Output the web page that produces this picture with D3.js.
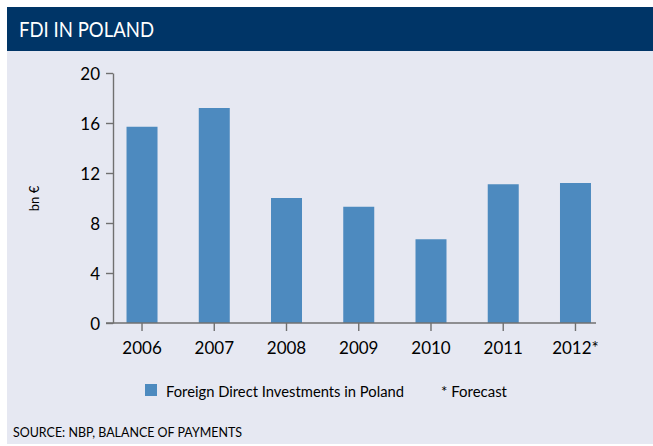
<!DOCTYPE html>
<html>
<head>
<meta charset="utf-8">
<script src="https://cdn.jsdelivr.net/npm/d3@7"></script>
<style>
  html, body { margin: 0; padding: 0; background: #ffffff; }
  svg { display: block; font-family: Lato, "Open Sans", sans-serif; }
</style>
</head>
<body>
<svg id="chart" width="653" height="446"></svg>
<script>
// FDI inflows to Poland, bn EUR
const years = ["2006", "2007", "2008", "2009", "2010", "2011", "2012*"];
const fdiValues = [15.7, 17.2, 10.0, 9.3, 6.7, 11.1, 11.2];
const yTicks = [0, 4, 8, 12, 16, 20];

const title = "FDI IN POLAND";
const yLabel = "bn €";
const legendSeries = "Foreign Direct Investments in Poland";
const legendNote = "* Forecast";
const source = "SOURCE: NBP,  BALANCE OF PAYMENTS";

const svg = d3.select("#chart");

// panel background and header
svg.append("rect").attr("x", 7).attr("y", 50).attr("width", 646).attr("height", 394).attr("fill", "#e6e8f2");
svg.append("rect").attr("x", 7).attr("y", 7).attr("width", 646).attr("height", 44).attr("fill", "#003567");
svg.append("text").attr("x", 19).attr("y", 36.5).attr("fill", "#ffffff")
  .attr("font-size", 22).attr("textLength", 135).attr("lengthAdjust", "spacingAndGlyphs").text(title);

const y = d3.scaleLinear().domain([0, 20]).range([323, 73]);
const x = d3.scaleBand().domain(years).range([105.9, 611.6])
  .paddingInner(0.571).paddingOuter(0.2855);

const axisColor = "#707070";

// bars
svg.append("g").selectAll("rect").data(years).join("rect")
  .attr("x", d => x(d))
  .attr("width", x.bandwidth())
  .attr("y", (d, i) => y(fdiValues[i]))
  .attr("height", (d, i) => y(0) - y(fdiValues[i]))
  .attr("fill", "#4d8abf");

// y axis
const yAxis = svg.append("g").attr("transform", "translate(113,0)")
  .call(d3.axisLeft(y).tickValues(yTicks).tickSize(7).tickPadding(6).tickSizeOuter(0));
yAxis.select(".domain").attr("stroke", axisColor).attr("stroke-width", 1.4);
yAxis.selectAll(".tick line").attr("stroke", axisColor).attr("stroke-width", 1.4);
yAxis.selectAll(".tick text").attr("font-size", 17).attr("fill", "#000").attr("font-family", "Lato, sans-serif").attr("dy", "0.36em");

// x axis
const xAxis = svg.append("g").attr("transform", "translate(0,323)")
  .call(d3.axisBottom(x).tickSize(8).tickPadding(11).tickSizeOuter(0));
xAxis.select(".domain").attr("d", "M106,0H596").attr("stroke", axisColor).attr("stroke-width", 1.6);
xAxis.selectAll(".tick line").attr("stroke", axisColor).attr("stroke-width", 1.4);
xAxis.selectAll(".tick text").attr("font-size", 17).attr("fill", "#000").attr("font-family", "Lato, sans-serif");

// y axis title
svg.append("text").attr("transform", "translate(39,198.5) rotate(-90)")
  .attr("text-anchor", "middle").attr("font-size", 13).attr("fill", "#000").text(yLabel);

// legend
svg.append("rect").attr("x", 145).attr("y", 384).attr("width", 12).attr("height", 12).attr("fill", "#4d8abf");
svg.append("text").attr("x", 166).attr("y", 396.5).attr("font-size", 14.5).attr("fill", "#000")
  .attr("textLength", 238).attr("lengthAdjust", "spacingAndGlyphs").text(legendSeries);
svg.append("text").attr("x", 441).attr("y", 396.5).attr("font-size", 14.5).attr("fill", "#000")
  .attr("textLength", 66).attr("lengthAdjust", "spacingAndGlyphs").text(legendNote);

// source note
svg.append("text").attr("x", 13).attr("y", 436.5).attr("font-size", 13).attr("fill", "#000")
  .attr("textLength", 229).attr("lengthAdjust", "spacingAndGlyphs").text(source);
</script>
</body>
</html>
